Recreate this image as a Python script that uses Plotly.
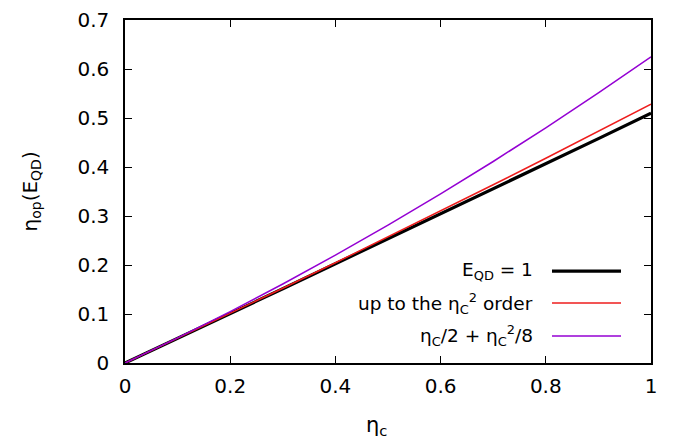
import plotly.graph_objects as go

eta_c = [0.0, 0.1, 0.2, 0.3, 0.4, 0.5, 0.6, 0.7, 0.8, 0.9, 1.0]
eta_exact = [0.0, 0.0501, 0.1004, 0.1514, 0.2025, 0.2535, 0.3046, 0.3556, 0.4060, 0.4580, 0.5100]
eta_second = [0.0, 0.0503, 0.1011, 0.1525, 0.2045, 0.2570, 0.3100, 0.3637, 0.4179, 0.4727, 0.5280]
eta_approx = [0.0, 0.05125, 0.105, 0.16125, 0.22, 0.28125, 0.345, 0.41125, 0.48, 0.55125, 0.625]

x_ticks = [0, 0.2, 0.4, 0.6, 0.8, 1]
x_tick_labels = ["0", "0.2", "0.4", "0.6", "0.8", "1"]
y_ticks = [0, 0.1, 0.2, 0.3, 0.4, 0.5, 0.6, 0.7]
y_tick_labels = ["0", "0.1", "0.2", "0.3", "0.4", "0.5", "0.6", "0.7"]

names = ["E<sub>QD</sub> = 1",
         "up to the η<sub>C</sub><sup>2</sup> order",
         "η<sub>C</sub>/2 + η<sub>C</sub><sup>2</sup>/8"]
colors = ["#000000", "#ee1c1c", "#9400d3"]
widths = [3.2, 1.5, 1.5]
series = [eta_exact, eta_second, eta_approx]

fig = go.Figure()
for ys, c, w, n in zip(series, colors, widths, names):
    fig.add_trace(go.Scatter(x=eta_c, y=ys, mode="lines", name=n,
                             line=dict(color=c, width=w), showlegend=False))

font = "DejaVu Sans, Liberation Sans, Arial, sans-serif"
fs = 20
leg_fs = 18.5
axis_common = dict(showline=True, mirror="allticks", linecolor="black", linewidth=1.5,
                   ticks="inside", ticklen=7, tickwidth=1, tickcolor="black",
                   showgrid=False, zeroline=False, ticklabeloverflow="allow",
                   tickfont=dict(family=font, size=fs, color="black"))
fig.update_xaxes(range=[0, 1], tickvals=x_ticks, ticktext=x_tick_labels,
                 ticklabelstandoff=4, **axis_common)
fig.update_yaxes(range=[0, 0.7], tickvals=y_ticks, ticktext=y_tick_labels,
                 ticklabelstandoff=10, **axis_common)

# legend drawn manually (text right-aligned, sample line on the right)
leg_y_px = [268, 301, 335]
for n, c, w, yp in zip(names, colors, widths, leg_y_px):
    yy = 1 - (yp - 8) / 355
    fig.add_annotation(x=(535 - 125) / 526, y=yy, xref="paper", yref="paper",
                       text=n, showarrow=False, xanchor="right", yanchor="middle",
                       font=dict(family=font, size=leg_fs, color="black"))
    fig.add_shape(type="line", xref="paper", yref="paper",
                  x0=(552 - 125) / 526, x1=(621 - 125) / 526, y0=yy, y1=yy,
                  line=dict(color=c, width=w))

fig.add_annotation(x=(376 - 125) / 526, y=1 - (428 - 8) / 355, xref="paper", yref="paper",
                   text="η<sub>c</sub>", showarrow=False, xanchor="center", yanchor="middle",
                   font=dict(family=font, size=21, color="black"))
fig.add_annotation(x=(30 - 125) / 526, y=0.5, xref="paper", yref="paper",
                   text="η<sub>op</sub>(E<sub>QD</sub>)", showarrow=False, textangle=-90,
                   xanchor="center", yanchor="middle",
                   font=dict(family=font, size=fs, color="black"))

fig.update_layout(width=678, height=446, margin=dict(l=125, r=27, t=8, b=83),
                  paper_bgcolor="white", plot_bgcolor="white")
fig.write_html("out.html")
